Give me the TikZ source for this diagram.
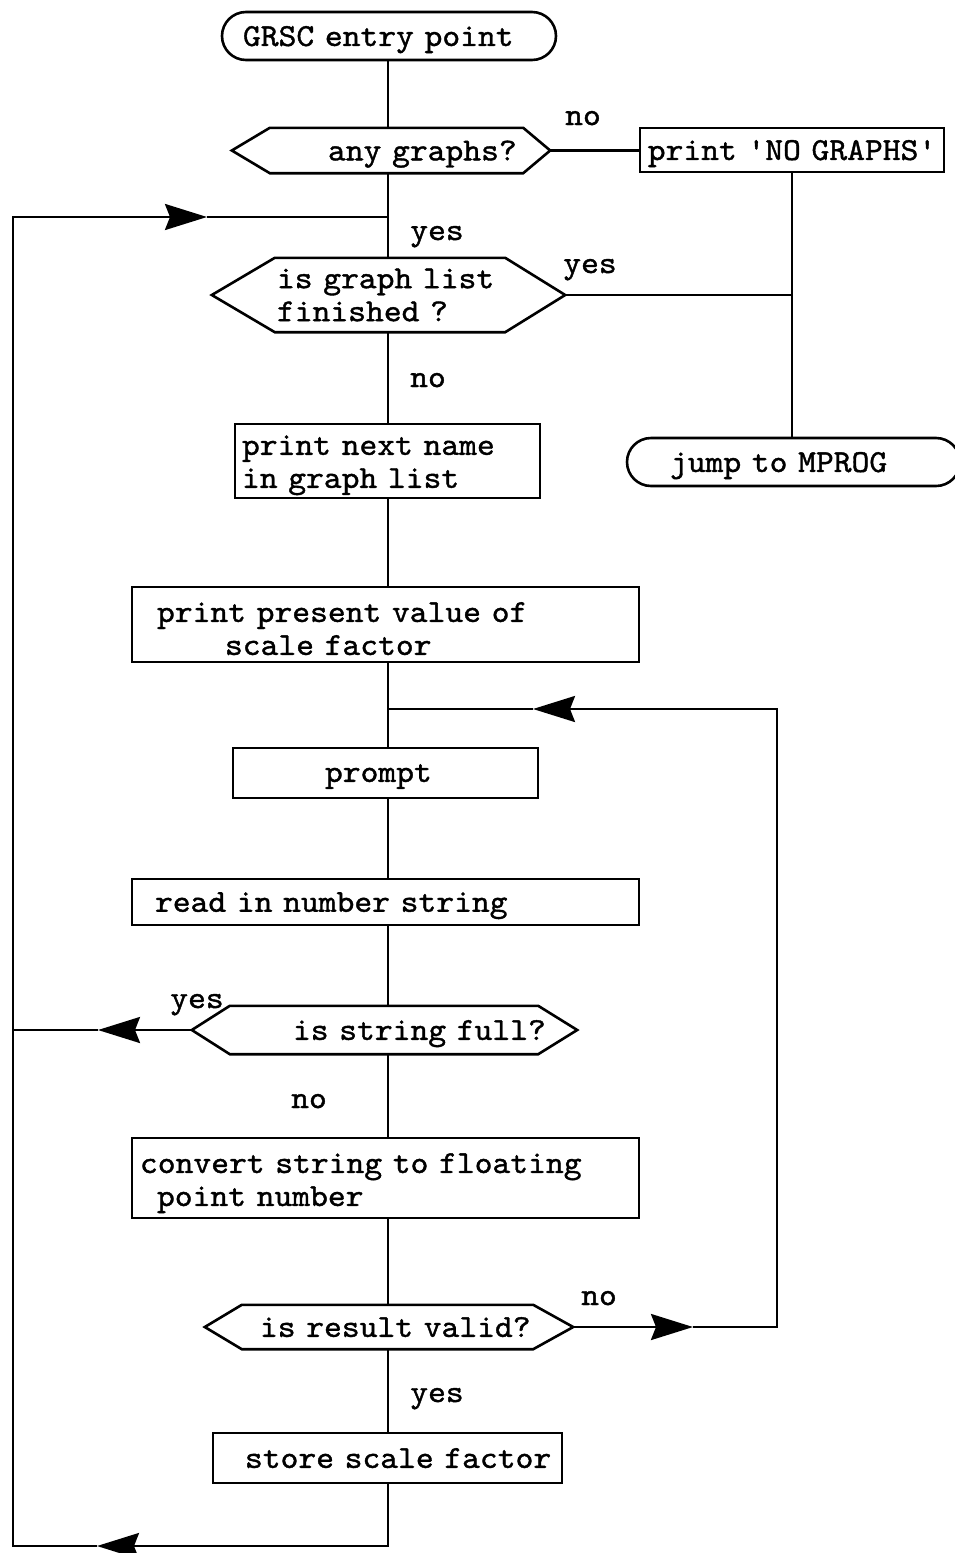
\documentclass[tikz,border=0pt]{standalone}
\usepackage{fontspec}
\newfontfamily\typew{lmmono10-regular.otf}[FakeBold=1.2,FakeStretch=1.06]
\usetikzlibrary{arrows.meta}
\newcommand\drawhex[3]{\draw[ln] ([xshift=#2]#1.north west) -- ([xshift=-#3]#1.north east) -- (#1.east) -- ([xshift=-#3]#1.south east) -- ([xshift=#2]#1.south west) -- (#1.west) -- cycle;}
\begin{document}
\begin{tikzpicture}[x=1pt,y=-1pt,
  ln/.style={line width=2.6pt, line join=miter},
  arrend/.style={-{Stealth[length=42pt,width=26pt,inset=5pt]}},
  txt/.style={font=\typew\fontsize{32}{33}\selectfont},
  one/.style={text depth=0pt},
  box/.style={txt, draw, ln, inner sep=0pt, align=left},
  term/.style={box, one, rounded corners=24pt},
  hexn/.style={txt, inner sep=0pt, align=left},
  lab/.style={txt, one, inner sep=0pt},
]
\useasboundingbox (0,0) rectangle (955,1553);
\coordinate (main) at (388,0);

% nodes
\node[term, text width=334pt, minimum height=48pt] (start) at (389,36) {\hspace*{21pt}GRSC entry point};
\node[hexn, one, text width=318pt, minimum height=45pt] (q1) at (391,150.5) {\hspace*{96pt}any graphs?};
\drawhex{q1}{38}{27}
\node[box, one, text width=304pt, minimum height=44pt, align=center] (nog) at (792,150) {print 'NO GRAPHS'};
\node[term, text width=333pt, minimum height=48pt] (jump) at (793.5,462) {\hspace*{43pt}jump to MPROG};
\node[hexn, text width=353pt, minimum height=74pt] (q2) at (388.5,295) {\hspace*{65pt}is graph list\\\hspace*{65pt}finished ?};
\drawhex{q2}{63}{60}
\node[box, text width=305pt, minimum height=74pt] (b1) at (387.5,461) {\rule{0pt}{28pt}\hspace*{7pt}print next name\\\hspace*{7pt}in graph list};
\node[box, text width=507pt, minimum height=75pt] (b2) at (385.5,624.5) {\rule{0pt}{28pt}\hspace*{25pt}print present value of\\\hspace*{93pt}scale factor};
\node[box, one, text width=305pt, minimum height=50pt] (b3) at (385.5,773) {\hspace*{92pt}prompt};
\node[box, one, text width=507pt, minimum height=46pt] (b4) at (385.5,902) {\hspace*{23pt}read in number string};
\node[hexn, one, text width=385pt, minimum height=48pt] (q3) at (384.5,1030) {\hspace*{101pt}is string full?};
\drawhex{q3}{38}{39}
\node[box, text width=507pt, minimum height=80pt] (b5) at (385.5,1178) {\rule{0pt}{30pt}\hspace*{8pt}convert string to floating\\\hspace*{25pt}point number};
\node[hexn, one, text width=368pt, minimum height=44pt] (q4) at (389,1327) {\hspace*{55pt}is result valid?};
\drawhex{q4}{37}{40}
\node[box, one, text width=349pt, minimum height=50pt] (b6) at (387.5,1458) {\hspace*{32pt}store scale factor};

% labels
\node[lab] (l1) at (583,118) {no};
\node[lab] (l2) at (437,233) {yes};
\node[lab] (l3) at (590,266) {yes};
\node[lab] (l4) at (428,380) {no};
\node[lab] (l5) at (197,1001) {yes};
\node[lab] (l6) at (309,1101) {no};
\node[lab] (l7) at (599,1298) {no};
\node[lab] (l8) at (437,1395) {yes};

% connector coordinates
\coordinate (lt) at (13,217);
\coordinate (lb) at (13,1546);
\coordinate (t1) at (207,217);
\coordinate (t5) at (97,1546);
\coordinate (t4) at (98,1030);
\coordinate (rt) at (777,709);
\coordinate (t2) at (533,709);
\coordinate (t3) at (693,1327);

% main line
\draw[ln] (start.south -| main) -- (q1.north -| main);
\draw[ln] (q1.south -| main) -- (q2.north -| main);
\draw[ln] (q2.south -| main) -- (b1.north -| main);
\draw[ln] (b1.south -| main) -- (b2.north -| main);
\draw[ln] (b2.south -| main) -- (b3.north -| main);
\draw[ln] (b3.south -| main) -- (b4.north -| main);
\draw[ln] (b4.south -| main) -- (q3.north -| main);
\draw[ln] (q3.south -| main) -- (b5.north -| main);
\draw[ln] (b5.south -| main) -- (q4.north -| main);
\draw[ln] (q4.south -| main) -- (b6.north -| main);

% right branch
\draw[ln] (q1.east) -- (q1.east -| nog.west);
\draw[ln] (nog.south) -- (nog.south |- jump.north);
\draw[ln] (q2.east) -- (q2.east -| nog.south);

% big left loop
\draw[ln, arrend] (b6.south -| main) |- (t5);
\draw[ln, arrend] (t5) -- (lb) -- (lt) -- (t1);
\draw[ln] (t1) -- (t1 -| main);
\draw[ln, arrend] (q3.west) -- (t4);
\draw[ln] (t4) -- (t4 -| lt);

% right loop
\draw[ln, arrend] (q4.east) -- (t3);
\draw[ln, arrend] (t3) -- (t3 -| rt) -- (rt) -- (t2);
\draw[ln] (t2) -- (t2 -| main);
\end{tikzpicture}
\end{document}
